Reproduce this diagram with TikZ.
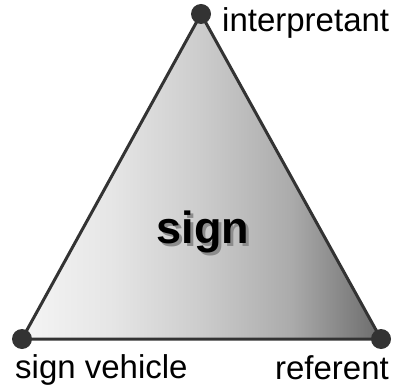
\documentclass[tikz,border=0pt]{standalone}
\usepackage{fontspec}
\setmainfont{Liberation Sans}
\pgfdeclarehorizontalshading{trishade}{100bp}{color(0bp)=(black!4); color(25bp)=(black!4); color(37.5bp)=(black!10); color(50bp)=(black!20); color(62.5bp)=(black!33); color(75bp)=(black!58); color(100bp)=(black!58)}
\begin{document}
\begin{tikzpicture}[x=1pt,y=1pt,
  vertex/.style={circle,fill=black!80,inner sep=0pt,minimum size=20pt},
  edge/.style={draw=black!80,line width=3pt,line join=round},
  lbl/.style={font=\fontsize{33}{36}\selectfont,inner sep=0pt,anchor=base}]
\useasboundingbox (0,0) rectangle (395,391);
\coordinate (T) at (201,377);
\coordinate (L) at (22,52);
\coordinate (R) at (381,52);
\shade[shading=trishade] (T) -- (L) -- (R) -- cycle;
\draw[edge] (T) -- (L) -- (R) -- cycle;
\node[vertex] (vt) at (T) {};
\node[vertex] (vl) at (L) {};
\node[vertex] (vr) at (R) {};
\node[lbl,anchor=base west] (it) at (222,359) {interpretant};
\node[lbl,anchor=base west] (sv) at (15,13) {sign vehicle};
\node[lbl,anchor=base east] (rf) at (389,12) {referent};
\node[font=\fontsize{45}{50}\bfseries\selectfont,anchor=base,inner sep=0pt] (sg) at (203,148)
  {\rlap{\hspace{3pt}\raisebox{-3pt}{\color{black!45}sign}}sign};
\end{tikzpicture}
\end{document}
